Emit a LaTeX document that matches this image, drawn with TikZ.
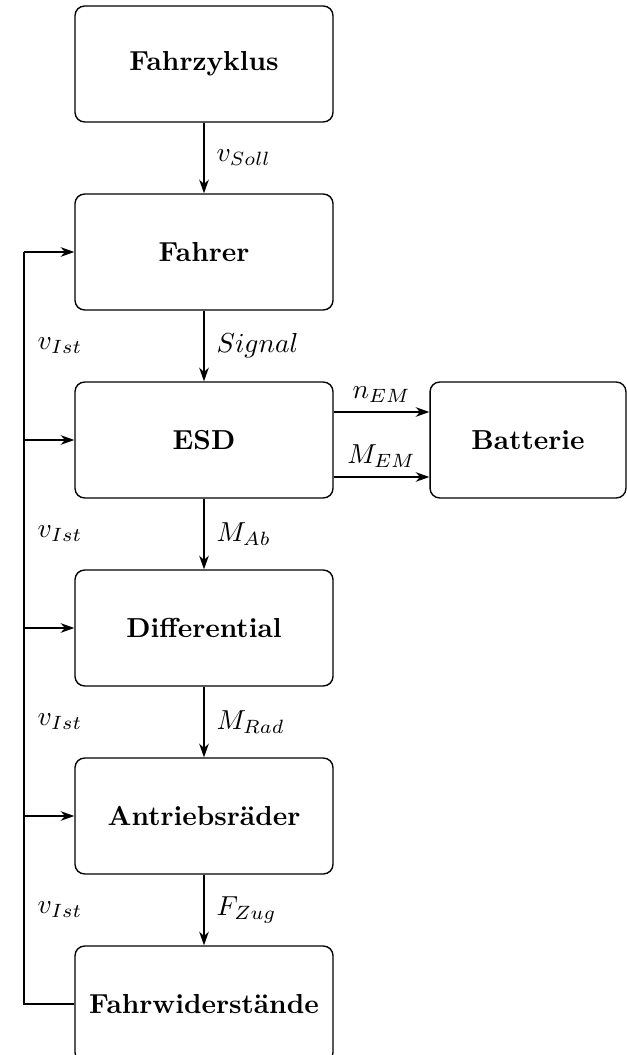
\documentclass[tikz,border=0pt]{standalone}
\usetikzlibrary{arrows.meta}
\begin{document}
\begin{tikzpicture}[x=0.364pt,y=-0.364pt,
  blockbox/.style={draw,rounded corners=3.5pt,minimum width=93.9pt,minimum height=42.2pt,font=\bfseries,line width=0.5pt},
  sigline/.style={-{Stealth[length=5pt,width=3.5pt]},line width=0.5pt},
  plainline/.style={line width=0.5pt}]
\useasboundingbox (0,0) rectangle (627,1055);
\node[blockbox] (fz) at (204,64) {Fahrzyklus};
\node[blockbox] (fa) at (204,252) {Fahrer};
\node[blockbox] (esd) at (204,440) {ESD};
\node[blockbox] (dif) at (204,628) {Differential};
\node[blockbox] (ant) at (204,816) {Antriebsräder};
\node[blockbox] (fw) at (204,1004) {Fahrwiderstände};
\node[blockbox,minimum width=71.3pt] (bat) at (528,440) {Batterie};
\draw[sigline] (fz) -- node[right,xshift=1pt] {$v_{Soll}$} (fa);
\draw[sigline] (fa) -- node[right,xshift=1pt] {$Signal$} (esd);
\draw[sigline] (esd) -- node[right,xshift=1pt] {$M_{Ab}$} (dif);
\draw[sigline] (dif) -- node[right,xshift=1pt] {$M_{Rad}$} (ant);
\draw[sigline] (ant) -- node[right,xshift=1pt] {$F_{Zug}$} (fw);
\draw[sigline] (esd.east |- 0,412) -- node[above] {$n_{EM}$} (bat.west |- 0,412);
\draw[sigline] (esd.east |- 0,477) -- node[above] {$M_{EM}$} (bat.west |- 0,477);
\coordinate (fb0) at (24,1004);
\coordinate (fb1) at (24,816);
\coordinate (fb2) at (24,628);
\coordinate (fb3) at (24,440);
\coordinate (fb4) at (24,252);
\draw[plainline] (fw.west) -- (fb0) -- (fb4);
\draw[sigline] (fb4) -- (fa.west);
\draw[sigline] (fb3) -- (esd.west);
\draw[sigline] (fb2) -- (dif.west);
\draw[sigline] (fb1) -- (ant.west);
\node[anchor=west] (l1) at (28,346) {$v_{Ist}$};
\node[anchor=west] (l2) at (28,534) {$v_{Ist}$};
\node[anchor=west] (l3) at (28,722) {$v_{Ist}$};
\node[anchor=west] (l4) at (28,910) {$v_{Ist}$};
\end{tikzpicture}
\end{document}
